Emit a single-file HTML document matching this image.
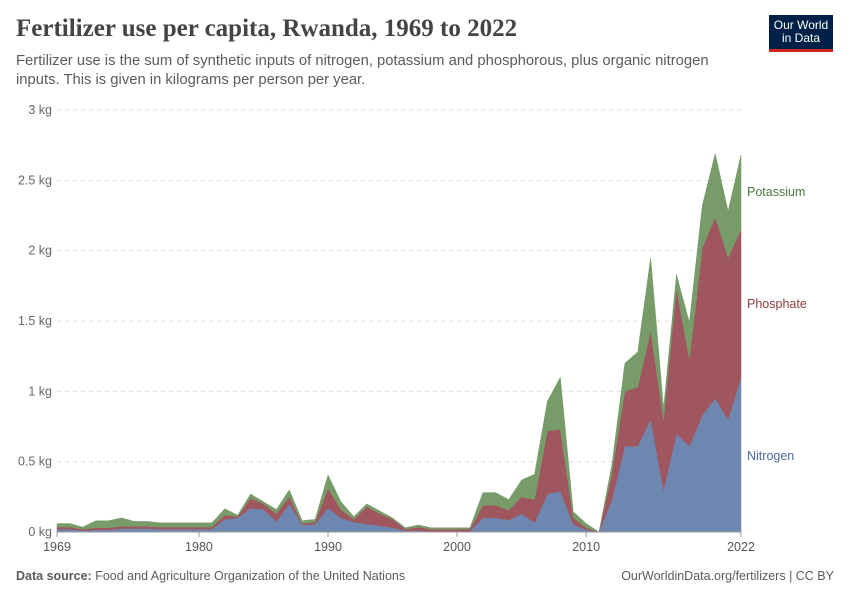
<!DOCTYPE html>
<html><head><meta charset="utf-8"><style>
body{margin:0;width:850px;height:600px;background:#fff;font-family:"Liberation Sans",sans-serif;position:relative;overflow:hidden}
.t{position:absolute;margin:0}
</style></head><body>
<h1 class="t" style="left:16px;top:15px;font-family:'Liberation Serif',serif;font-size:25px;font-weight:bold;color:#444">Fertilizer use per capita, Rwanda, 1969 to 2022</h1>
<p class="t" style="left:16px;top:52px;font-size:14.8px;line-height:19px;color:#5b5b5b;width:720px">Fertilizer use is the sum of synthetic inputs of nitrogen, potassium and phosphorous, plus organic nitrogen inputs. This is given in kilograms per person per year.</p>
<div style="position:absolute;left:769px;top:15px;width:64px;height:37px;background:#002147;border-bottom:3px solid #ce261e;box-sizing:border-box;color:#fff;font-size:12px;line-height:13px;text-align:center;padding-top:4px">Our World<br>in Data</div>
<svg id="c" width="850" height="600" style="position:absolute;left:0;top:0"></svg>
<p class="t" style="left:16px;top:569px;font-size:12.5px;color:#5b5b5b"><b>Data source:</b> Food and Agriculture Organization of the United Nations</p>
<p class="t" style="right:16px;top:569px;font-size:12.5px;color:#5b5b5b">OurWorldinData.org/fertilizers | CC BY</p>
<script>
const years=[];for(let y=1969;y<=2022;y++)years.push(y);
const nitrogen=[.02,.02,.01,.015,.015,.025,.025,.025,.02,.02,.02,.02,.02,
.09,.1,.17,.16,.075,.2,.05,.055,.17,.1,.07,.057,.045,.03,.01,.01,.005,.005,.005,.005,
.1,.1,.085,.13,.066,.27,.29,.055,.015,0,.23,.61,.61,.8,.3,.7,.61,.83,.95,.8,1.1];
const phosphate=[.015,.015,.01,.015,.015,.015,.015,.015,.015,.015,.015,.015,.015,
.03,.01,.07,.04,.055,.05,.01,.015,.14,.06,.02,.123,.085,.06,.01,.025,.015,.015,.015,.015,
.09,.09,.07,.12,.164,.45,.44,.045,.015,0,.19,.39,.42,.63,.5,1.03,.62,1.19,1.29,1.15,1.05];
const potassium=[.025,.025,.015,.05,.05,.06,.035,.035,.03,.03,.03,.03,.03,
.045,.01,.03,.015,.03,.05,.02,.02,.095,.055,.02,.02,.02,.01,.01,.015,.01,.01,.01,.01,
.09,.09,.075,.12,.18,.21,.37,.045,.03,0,.06,.2,.25,.52,.08,.1,.26,.3,.45,.33,.53];
const yTicks=[0,0.5,1,1.5,2,2.5,3];
const yTickLabels=["0 kg","0.5 kg","1 kg","1.5 kg","2 kg","2.5 kg","3 kg"];
const xTicks=[1969,1980,1990,2000,2010,2022];
const svg=document.getElementById('c');const NS='http://www.w3.org/2000/svg';
const x=v=>57+(v-1969)*(741-57)/53;
const y=v=>532-v*(532-110)/3;
function mk(t,a,p){const e=document.createElementNS(NS,t);for(const k in a)e.setAttribute(k,a[k]);(p||svg).appendChild(e);return e;}
yTicks.forEach((v,i)=>{
 if(v>0){const l=mk('line',{x1:57,x2:741,y1:y(v),y2:y(v),stroke:'#ddd','stroke-dasharray':'4,4'});
 
 }
 const t=mk('text',{x:52,y:y(v)+4,'text-anchor':'end','font-size':'12.5',fill:'#666'});t.textContent=yTickLabels[i];
 
 
});
const series=[{n:'nitrogen',d:nitrogen,c:'#6d87b1'},{n:'phosphate',d:phosphate,c:'#a0565f'},{n:'potassium',d:potassium,c:'#779b69'}];
const base=years.map(()=>0);
series.forEach(s=>{
 const top=base.map((b,i)=>b+s.d[i]);
 let pts=years.map((yr,i)=>x(yr)+','+y(top[i]));
 let bot=years.map((yr,i)=>x(yr)+','+y(base[i])).reverse();
 const p=mk('polygon',{points:pts.concat(bot).join(' '),fill:s.c,stroke:s.c,'stroke-width':0.5});
 
 
 top.forEach((v,i)=>base[i]=v);
});
mk('line',{x1:57,x2:741,y1:532,y2:532,stroke:'#999'});
xTicks.forEach(v=>{
 mk('line',{x1:x(v),x2:x(v),y1:532,y2:537,stroke:'#999'});
 const t=mk('text',{x:x(v),y:551,'text-anchor':'middle','font-size':'12.5',fill:'#555'});t.textContent=v;
 
 
});
[['Potassium',196,'#4c7a3e'],['Phosphate',308,'#8e3c45'],['Nitrogen',460,'#4a6aa3']].forEach(a=>{
 const t=mk('text',{x:747,y:a[1],'font-size':'12.5',fill:a[2]});t.textContent=a[0];
 
 
});
</script>
</body></html>
